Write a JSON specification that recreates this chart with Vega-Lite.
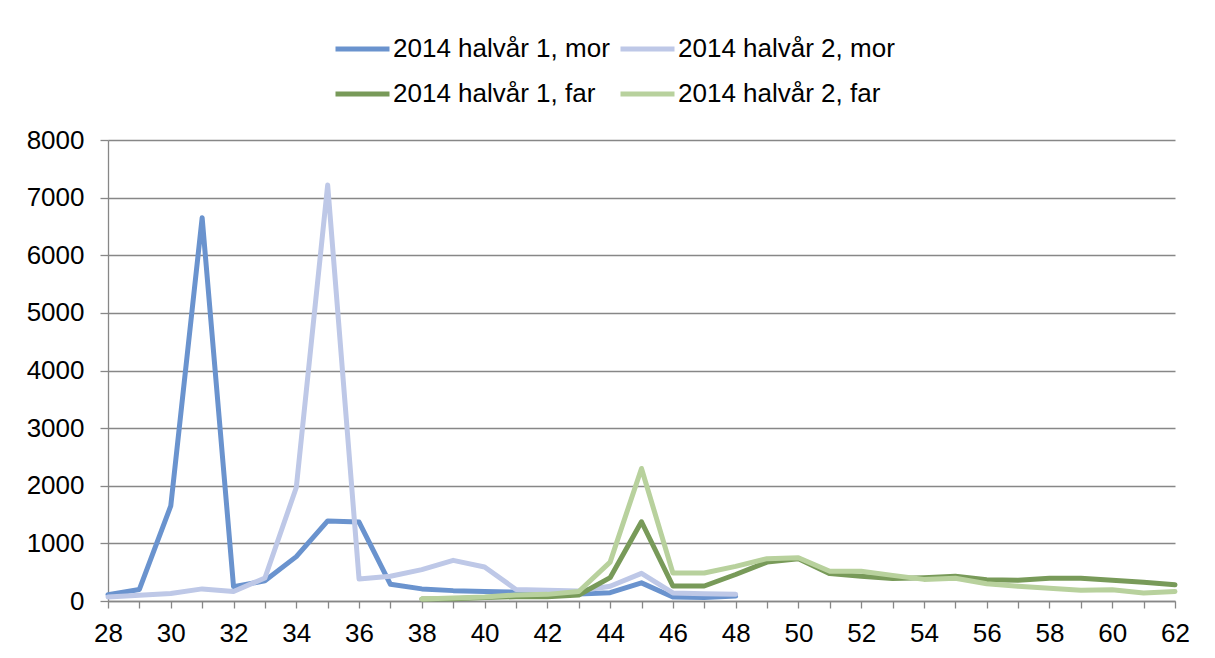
{
  "$schema": "https://vega.github.io/schema/vega-lite/v6.json",
  "autosize": {"type": "none"},
  "width": 1067,
  "height": 461,
  "padding": {"left": 108, "top": 140, "right": 40, "bottom": 57},
  "background": "white",
  "config": {
    "view": {"stroke": null},
    "font": "Liberation Sans",
    "axis": {"labelFont": "Liberation Sans", "labelColor": "#000000", "labelFontSize": 26, "domainColor": "#878787", "tickColor": "#878787", "gridColor": "#878787", "domainWidth": 1.3, "tickWidth": 1.3, "gridWidth": 1.3, "title": null}
  },
  "data": {"values": [
    {"uke": 28, "serie": "2014 halvår 1, mor", "antall": 110},
    {"uke": 29, "serie": "2014 halvår 1, mor", "antall": 200},
    {"uke": 30, "serie": "2014 halvår 1, mor", "antall": 1650},
    {"uke": 31, "serie": "2014 halvår 1, mor", "antall": 6650},
    {"uke": 32, "serie": "2014 halvår 1, mor", "antall": 250},
    {"uke": 33, "serie": "2014 halvår 1, mor", "antall": 350},
    {"uke": 34, "serie": "2014 halvår 1, mor", "antall": 770},
    {"uke": 35, "serie": "2014 halvår 1, mor", "antall": 1390},
    {"uke": 36, "serie": "2014 halvår 1, mor", "antall": 1370},
    {"uke": 37, "serie": "2014 halvår 1, mor", "antall": 290},
    {"uke": 38, "serie": "2014 halvår 1, mor", "antall": 210},
    {"uke": 39, "serie": "2014 halvår 1, mor", "antall": 180},
    {"uke": 40, "serie": "2014 halvår 1, mor", "antall": 165},
    {"uke": 41, "serie": "2014 halvår 1, mor", "antall": 155},
    {"uke": 42, "serie": "2014 halvår 1, mor", "antall": 145},
    {"uke": 43, "serie": "2014 halvår 1, mor", "antall": 120},
    {"uke": 44, "serie": "2014 halvår 1, mor", "antall": 145},
    {"uke": 45, "serie": "2014 halvår 1, mor", "antall": 315},
    {"uke": 46, "serie": "2014 halvår 1, mor", "antall": 70},
    {"uke": 47, "serie": "2014 halvår 1, mor", "antall": 60},
    {"uke": 48, "serie": "2014 halvår 1, mor", "antall": 85},
    {"uke": 28, "serie": "2014 halvår 2, mor", "antall": 70},
    {"uke": 29, "serie": "2014 halvår 2, mor", "antall": 100},
    {"uke": 30, "serie": "2014 halvår 2, mor", "antall": 130},
    {"uke": 31, "serie": "2014 halvår 2, mor", "antall": 210},
    {"uke": 32, "serie": "2014 halvår 2, mor", "antall": 165},
    {"uke": 33, "serie": "2014 halvår 2, mor", "antall": 400},
    {"uke": 34, "serie": "2014 halvår 2, mor", "antall": 1970},
    {"uke": 35, "serie": "2014 halvår 2, mor", "antall": 7220},
    {"uke": 36, "serie": "2014 halvår 2, mor", "antall": 380},
    {"uke": 37, "serie": "2014 halvår 2, mor", "antall": 430},
    {"uke": 38, "serie": "2014 halvår 2, mor", "antall": 545},
    {"uke": 39, "serie": "2014 halvår 2, mor", "antall": 705},
    {"uke": 40, "serie": "2014 halvår 2, mor", "antall": 590},
    {"uke": 41, "serie": "2014 halvår 2, mor", "antall": 200},
    {"uke": 42, "serie": "2014 halvår 2, mor", "antall": 185},
    {"uke": 43, "serie": "2014 halvår 2, mor", "antall": 175},
    {"uke": 44, "serie": "2014 halvår 2, mor", "antall": 255},
    {"uke": 45, "serie": "2014 halvår 2, mor", "antall": 480},
    {"uke": 46, "serie": "2014 halvår 2, mor", "antall": 140},
    {"uke": 47, "serie": "2014 halvår 2, mor", "antall": 125},
    {"uke": 48, "serie": "2014 halvår 2, mor", "antall": 115},
    {"uke": 38, "serie": "2014 halvår 1, far", "antall": 35},
    {"uke": 39, "serie": "2014 halvår 1, far", "antall": 40},
    {"uke": 40, "serie": "2014 halvår 1, far", "antall": 60},
    {"uke": 41, "serie": "2014 halvår 1, far", "antall": 75},
    {"uke": 42, "serie": "2014 halvår 1, far", "antall": 75},
    {"uke": 43, "serie": "2014 halvår 1, far", "antall": 105},
    {"uke": 44, "serie": "2014 halvår 1, far", "antall": 405},
    {"uke": 45, "serie": "2014 halvår 1, far", "antall": 1375},
    {"uke": 46, "serie": "2014 halvår 1, far", "antall": 260},
    {"uke": 47, "serie": "2014 halvår 1, far", "antall": 260},
    {"uke": 48, "serie": "2014 halvår 1, far", "antall": 460},
    {"uke": 49, "serie": "2014 halvår 1, far", "antall": 675},
    {"uke": 50, "serie": "2014 halvår 1, far", "antall": 735},
    {"uke": 51, "serie": "2014 halvår 1, far", "antall": 475},
    {"uke": 52, "serie": "2014 halvår 1, far", "antall": 430},
    {"uke": 53, "serie": "2014 halvår 1, far", "antall": 390},
    {"uke": 54, "serie": "2014 halvår 1, far", "antall": 405},
    {"uke": 55, "serie": "2014 halvår 1, far", "antall": 430},
    {"uke": 56, "serie": "2014 halvår 1, far", "antall": 370},
    {"uke": 57, "serie": "2014 halvår 1, far", "antall": 360},
    {"uke": 58, "serie": "2014 halvår 1, far", "antall": 395},
    {"uke": 59, "serie": "2014 halvår 1, far", "antall": 395},
    {"uke": 60, "serie": "2014 halvår 1, far", "antall": 360},
    {"uke": 61, "serie": "2014 halvår 1, far", "antall": 325},
    {"uke": 62, "serie": "2014 halvår 1, far", "antall": 280},
    {"uke": 38, "serie": "2014 halvår 2, far", "antall": 35},
    {"uke": 39, "serie": "2014 halvår 2, far", "antall": 50},
    {"uke": 40, "serie": "2014 halvår 2, far", "antall": 70},
    {"uke": 41, "serie": "2014 halvår 2, far", "antall": 105},
    {"uke": 42, "serie": "2014 halvår 2, far", "antall": 115},
    {"uke": 43, "serie": "2014 halvår 2, far", "antall": 165},
    {"uke": 44, "serie": "2014 halvår 2, far", "antall": 675},
    {"uke": 45, "serie": "2014 halvår 2, far", "antall": 2300},
    {"uke": 46, "serie": "2014 halvår 2, far", "antall": 485},
    {"uke": 47, "serie": "2014 halvår 2, far", "antall": 485},
    {"uke": 48, "serie": "2014 halvår 2, far", "antall": 600},
    {"uke": 49, "serie": "2014 halvår 2, far", "antall": 735},
    {"uke": 50, "serie": "2014 halvår 2, far", "antall": 750},
    {"uke": 51, "serie": "2014 halvår 2, far", "antall": 515},
    {"uke": 52, "serie": "2014 halvår 2, far", "antall": 515},
    {"uke": 53, "serie": "2014 halvår 2, far", "antall": 445},
    {"uke": 54, "serie": "2014 halvår 2, far", "antall": 375},
    {"uke": 55, "serie": "2014 halvår 2, far", "antall": 395},
    {"uke": 56, "serie": "2014 halvår 2, far", "antall": 300},
    {"uke": 57, "serie": "2014 halvår 2, far", "antall": 255},
    {"uke": 58, "serie": "2014 halvår 2, far", "antall": 220},
    {"uke": 59, "serie": "2014 halvår 2, far", "antall": 185},
    {"uke": 60, "serie": "2014 halvår 2, far", "antall": 195},
    {"uke": 61, "serie": "2014 halvår 2, far", "antall": 140},
    {"uke": 62, "serie": "2014 halvår 2, far", "antall": 165}
  ]},
  "mark": {"type": "line", "strokeWidth": 5, "strokeCap": "round", "strokeJoin": "round"},
  "encoding": {
    "x": {
      "field": "uke", "type": "quantitative",
      "scale": {"domain": [28, 62], "nice": false, "zero": false},
      "axis": {
        "values": [28,29,30,31,32,33,34,35,36,37,38,39,40,41,42,43,44,45,46,47,48,49,50,51,52,53,54,55,56,57,58,59,60,61,62],
        "labelExpr": "datum.value % 2 == 0 ? datum.label : ''",
        "labelFlush": false, "labelOverlap": false, "grid": false,
        "tickSize": 7, "labelPadding": 12
      }
    },
    "y": {
      "field": "antall", "type": "quantitative",
      "scale": {"domain": [0, 8000], "nice": false},
      "axis": {
        "values": [0,1000,2000,3000,4000,5000,6000,7000,8000],
        "grid": true, "tickSize": 8, "labelPadding": 16, "format": "d"
      }
    },
    "color": {
      "field": "serie", "type": "nominal",
      "scale": {
        "domain": ["2014 halvår 1, mor", "2014 halvår 2, mor", "2014 halvår 1, far", "2014 halvår 2, far"],
        "range": ["#6A93CE", "#BEC8E7", "#789A59", "#B8D19D"]
      },
      "legend": {
        "title": null, "orient": "none", "legendX": 225, "legendY": -107,
        "columns": 2, "direction": "horizontal",
        "symbolType": "M-1,0H3", "symbolSize": 729, "symbolStrokeWidth": 5,
        "labelFont": "Liberation Sans", "labelFontSize": 26, "labelColor": "#000000",
        "labelOffset": 28, "columnPadding": 0, "rowPadding": 16, "labelLimit": 400
      }
    }
  }
}
